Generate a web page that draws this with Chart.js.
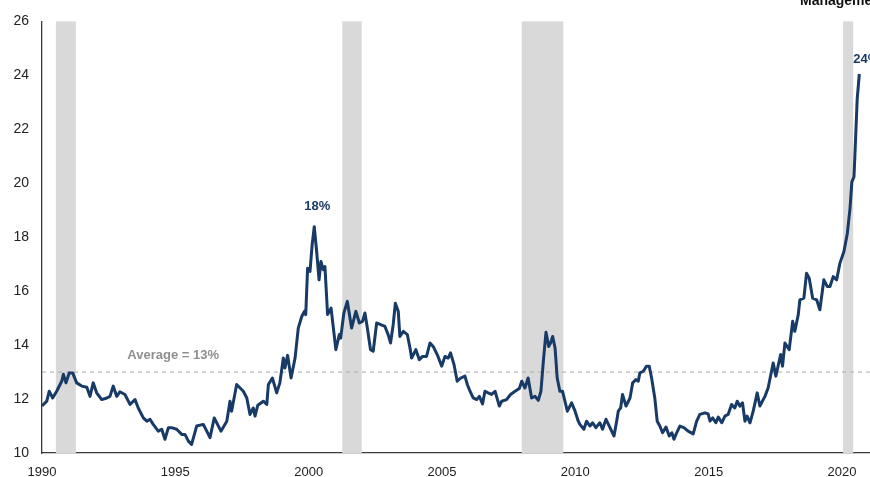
<!DOCTYPE html>
<html>
<head>
<meta charset="utf-8">
<script src="https://cdn.jsdelivr.net/npm/chart.js@4.4.1/dist/chart.umd.min.js"></script>
<style>
  html, body { margin: 0; padding: 0; background: #ffffff; overflow: hidden; }
  #wrap { position: relative; width: 870px; height: 477px; }
</style>
</head>
<body>
<div id="wrap"><canvas id="chart"></canvas></div>
<script>
// ---- data (decimal years, percent) ----
const years = [
  1990.00,1990.18,1990.27,1990.40,1990.55,1990.74,1990.80,1990.90,1991.02,1991.15,
  1991.30,1991.49,1991.68,1991.80,1991.92,1992.05,1992.24,1992.43,1992.55,1992.67,
  1992.80,1992.92,1993.11,1993.30,1993.49,1993.61,1993.80,1993.93,1994.05,1994.17,
  1994.36,1994.49,1994.61,1994.74,1994.86,1995.05,1995.24,1995.36,1995.49,1995.61,
  1995.80,1996.05,1996.30,1996.46,1996.71,1996.93,1997.05,1997.11,1997.30,1997.55,
  1997.68,1997.80,1997.92,1997.99,1998.09,1998.30,1998.43,1998.49,1998.64,1998.80,
  1998.92,1999.05,1999.11,1999.21,1999.34,1999.49,1999.61,1999.74,1999.84,1999.89,
  1999.96,2000.05,2000.13,2000.21,2000.30,2000.39,2000.46,2000.55,2000.61,2000.71,
  2000.84,2001.02,2001.15,2001.20,2001.32,2001.45,2001.61,2001.77,2001.90,2002.02,
  2002.11,2002.20,2002.32,2002.42,2002.55,2002.70,2002.86,2002.98,2003.07,2003.17,
  2003.25,2003.36,2003.42,2003.55,2003.70,2003.80,2003.86,2004.02,2004.15,2004.27,
  2004.42,2004.55,2004.67,2004.82,2004.99,2005.11,2005.23,2005.32,2005.45,2005.57,
  2005.70,2005.86,2005.95,2006.05,2006.17,2006.30,2006.40,2006.52,2006.61,2006.73,
  2006.86,2006.99,2007.15,2007.24,2007.42,2007.57,2007.74,2007.90,2007.99,2008.11,
  2008.23,2008.36,2008.49,2008.61,2008.71,2008.80,2008.90,2009.00,2009.07,2009.15,
  2009.24,2009.32,2009.42,2009.52,2009.61,2009.70,2009.86,2009.99,2010.11,2010.17,
  2010.32,2010.42,2010.55,2010.65,2010.77,2010.92,2011.02,2011.15,2011.30,2011.45,
  2011.55,2011.61,2011.70,2011.77,2011.90,2012.05,2012.15,2012.27,2012.36,2012.42,
  2012.55,2012.67,2012.77,2012.86,2012.98,2013.07,2013.17,2013.27,2013.40,2013.52,
  2013.62,2013.70,2013.80,2013.92,2014.07,2014.23,2014.42,2014.55,2014.67,2014.86,
  2014.98,2015.05,2015.15,2015.27,2015.36,2015.49,2015.61,2015.73,2015.86,2015.98,
  2016.07,2016.17,2016.27,2016.36,2016.44,2016.55,2016.67,2016.82,2016.92,2017.11,
  2017.23,2017.42,2017.52,2017.70,2017.77,2017.86,2018.02,2018.15,2018.23,2018.36,
  2018.42,2018.57,2018.67,2018.77,2018.90,2019.05,2019.17,2019.32,2019.45,2019.55,
  2019.67,2019.80,2019.92,2020.07,2020.20,2020.30,2020.37,2020.45,2020.52,2020.57,
  2020.65
];
const rates = [
  11.75,11.92,12.29,12.04,12.29,12.66,12.92,12.60,12.97,12.97,
  12.60,12.48,12.44,12.10,12.60,12.23,11.98,12.04,12.10,12.48,
  12.10,12.27,12.17,11.80,11.98,11.67,11.30,11.18,11.25,11.06,
  10.81,10.88,10.51,10.94,10.94,10.88,10.69,10.69,10.44,10.32,
  11.00,11.06,10.57,11.30,10.81,11.18,11.92,11.55,12.54,12.29,
  12.04,11.43,11.67,11.37,11.77,11.92,11.80,12.54,12.78,12.23,
  12.60,13.52,13.15,13.62,12.78,13.52,14.63,15.06,15.25,15.13,
  16.85,16.73,17.71,18.39,17.46,16.42,17.10,16.79,16.91,15.13,
  15.37,13.83,14.39,14.26,15.19,15.62,14.63,15.25,14.82,14.88,
  15.19,14.63,13.83,13.77,14.82,14.76,14.69,14.39,14.08,14.76,
  15.55,15.25,14.32,14.51,14.39,13.89,13.52,13.83,13.46,13.58,
  13.58,14.08,13.95,13.65,13.22,13.58,13.52,13.71,13.28,12.66,
  12.78,12.85,12.54,12.29,12.04,11.98,12.10,11.82,12.29,12.23,
  12.17,12.29,11.74,11.92,11.98,12.17,12.29,12.39,12.66,12.41,
  12.78,12.04,12.10,11.95,12.29,13.40,14.48,13.95,14.08,14.32,
  13.89,12.78,12.29,12.29,11.92,11.55,11.86,11.55,11.18,11.06,
  10.88,11.18,11.00,11.12,10.94,11.12,10.88,11.25,10.94,10.63,
  11.18,11.55,11.67,12.17,11.74,12.04,12.60,12.72,12.66,12.97,
  13.03,13.22,13.22,12.78,12.04,11.18,11.00,10.75,10.96,10.63,
  10.75,10.51,10.75,11.00,10.94,10.81,10.71,11.18,11.43,11.49,
  11.45,11.18,11.30,11.12,11.33,11.12,11.37,11.43,11.80,11.67,
  11.92,11.74,11.86,11.18,11.37,11.12,11.55,12.23,11.74,12.10,
  12.41,13.34,12.85,13.65,13.22,14.08,13.83,14.88,14.51,15.13,
  15.68,15.74,16.66,16.48,15.74,15.68,15.31,16.42,16.17,16.17,
  16.54,16.42,17.03,17.46,18.14,19.06,20.05,20.24,21.90,23.13,
  24.05
];
const recessionStarts = [1990.52, 2001.26, 2007.99, 2020.04];
const recessionEnds   = [1991.27, 2001.99, 2009.55, 2020.42];
const averageValue = 13;
const averageLabel = 'Average = 13%';
const averageLabelYear = 1993.2;
const peakLabels = ['18%', '24%'];
const peakLabelYears = [2000.21, 2020.65];
const xTickYears = [1990, 1995, 2000, 2005, 2010, 2015, 2020];
const yTickValues = [10, 12, 14, 16, 18, 20, 22, 24, 26];
const sourceText = 'Management';
const xMin = 1990, xMax = 2021.05;

// ---- plugins ----
const FONT = '"Liberation Sans", Arial, sans-serif';
const recessionPlugin = {
  id: 'recessions',
  beforeDatasetsDraw(chart) {
    const { ctx, chartArea, scales: { x } } = chart;
    ctx.save();
    ctx.fillStyle = '#d9d9d9';
    for (let i = 0; i < recessionStarts.length; i++) {
      const a = x.getPixelForValue(recessionStarts[i]);
      const b = x.getPixelForValue(recessionEnds[i]);
      ctx.fillRect(a, chartArea.top, b - a, chartArea.bottom - chartArea.top);
    }
    ctx.restore();
  }
};
const labelPlugin = {
  id: 'labels',
  afterDraw(chart) {
    const { ctx, scales: { x, y } } = chart;
    ctx.save();
    // average label
    ctx.font = 'bold 13px ' + FONT;
    ctx.fillStyle = '#8f8f8f';
    ctx.textAlign = 'left';
    ctx.textBaseline = 'middle';
    ctx.fillText(averageLabel, x.getPixelForValue(averageLabelYear), y.getPixelForValue(averageValue) - 17);
    // peak labels
    ctx.fillStyle = '#1b3a66';
    peakLabels.forEach((t, i) => {
      const yr = peakLabelYears[i];
      const idx = years.indexOf(yr);
      const px = x.getPixelForValue(yr);
      const py = y.getPixelForValue(rates[idx]);
      if (i === 0) {
        ctx.textAlign = 'center';
        ctx.fillText(t, px + 3, py - 20);
      } else {
        ctx.textAlign = 'left';
        ctx.fillText(t, px - 6, py - 15);
      }
    });
    // cut-off source text at top right
    ctx.font = 'bold 14px ' + FONT;
    ctx.fillStyle = '#111111';
    ctx.textAlign = 'left';
    ctx.textBaseline = 'alphabetic';
    ctx.fillText(sourceText, 800, 5);
    ctx.restore();
  }
};

const mainData = years.map((yr, i) => ({ x: yr, y: rates[i] }));
const avgData = [{ x: xMin, y: averageValue }, { x: xMax, y: averageValue }];

new Chart(document.getElementById('chart'), {
  type: 'line',
  data: {
    datasets: [
      {
        data: mainData,
        borderColor: '#173a66',
        borderWidth: 3,
        pointRadius: 0,
        tension: 0,
        borderJoinStyle: 'round',
        fill: false
      },
      {
        data: avgData,
        borderColor: '#aaaaaa',
        borderWidth: 1,
        borderDash: [4, 4],
        pointRadius: 0,
        fill: false
      }
    ]
  },
  options: {
    responsive: true,
    maintainAspectRatio: false,
    animation: false,
    layout: { padding: { top: 18, left: 0, right: 0, bottom: 0 } },
    plugins: { legend: { display: false }, tooltip: { enabled: false } },
    scales: {
      x: {
        type: 'linear',
        min: xMin,
        max: xMax,
        afterFit(s) { s.height = 24; },
        afterBuildTicks(s) { s.ticks = xTickYears.map(v => ({ value: v })); },
        grid: { display: false, drawTicks: false },
        border: { display: true, color: '#3a3a3a', width: 1.3 },
        ticks: {
          padding: 12,
          maxRotation: 0,
          autoSkip: false,
          color: '#222222',
          font: { family: FONT, size: 13 },
          callback: v => String(v)
        }
      },
      y: {
        min: 10,
        max: 26,
        afterFit(s) { s.width = 42; },
        afterBuildTicks(s) { s.ticks = yTickValues.map(v => ({ value: v })); },
        grid: { display: false, drawTicks: false },
        border: { display: true, color: '#3a3a3a', width: 1.3 },
        ticks: {
          padding: 13,
          color: '#222222',
          font: { family: FONT, size: 14 },
          callback: v => String(v)
        }
      }
    }
  },
  plugins: [recessionPlugin, labelPlugin]
});
</script>
</body>
</html>
